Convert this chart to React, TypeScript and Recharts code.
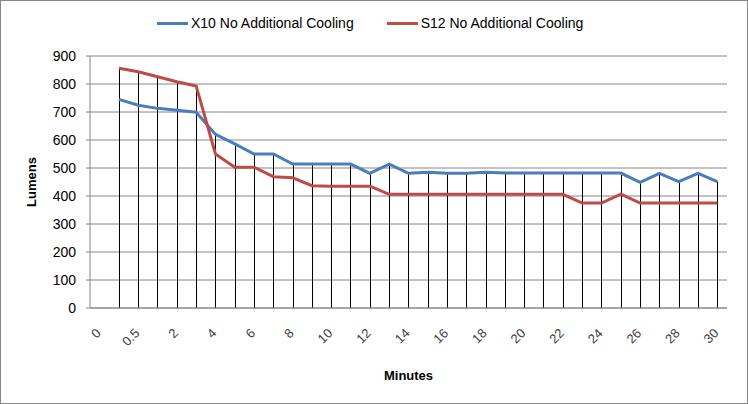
import React from 'react'
import { ComposedChart, Line, Bar, XAxis, YAxis, CartesianGrid } from 'recharts'

// minutes on the category axis (first one carries no reading)
const minutes = [
  '0', '0.25', '0.5', '1', '2', '3', '4', '5', '6', '7', '8', '9', '10', '11', '12', '13', '14',
  '15', '16', '17', '18', '19', '20', '21', '22', '23', '24', '25', '26', '27', '28', '29', '30',
]

const x10Lumens = [
  null, 745, 724, 713, 706, 699, 620, 586, 550, 550, 514, 514, 514, 514, 481, 514, 481,
  485, 481, 481, 485, 482, 482, 482, 482, 482, 482, 482, 449, 481, 451, 481, 451,
]

const s12Lumens = [
  null, 856, 844, 826, 808, 793, 550, 503, 503, 469, 465, 437, 435, 435, 435, 406, 406,
  406, 406, 406, 406, 406, 406, 406, 406, 375, 375, 407, 375, 375, 375, 375, 375,
]

const yTicks = [0, 100, 200, 300, 400, 500, 600, 700, 800, 900]

const BLUE = '#4A7EBB'
const RED = '#BE4B48'
const GRID = '#868686'
const FONT = '"Liberation Sans", Arial, sans-serif'

const data = minutes.map((m, i) => {
  const a = x10Lumens[i]
  const b = s12Lumens[i]
  return {
    minute: m,
    x10: a,
    s12: b,
    drop: a == null && b == null ? null : Math.max(a ?? 0, b ?? 0),
  }
})

// drop line from the higher series down to the axis, snapped to a whole pixel
const DropLine = (props: any) => {
  const { x, y, width, height } = props
  if (height == null || height <= 0) return null
  const cx = Math.round(x + width / 2) + 0.5
  return <line x1={cx} x2={cx} y1={y} y2={y + height} stroke="#000" strokeWidth={1} />
}

const AngledTick = (props: any) => {
  const { x, y, payload } = props
  const tx = x + 2
  const ty = y + 26
  return (
    <text
      x={tx}
      y={ty}
      transform={`rotate(-45 ${tx} ${ty})`}
      textAnchor="end"
      fontSize={13}
      fontFamily={FONT}
      fill="#404040"
    >
      {payload.value}
    </text>
  )
}

const LumensLabel = (props: any) => {
  const { viewBox } = props
  const x = viewBox.x + 31
  const y = viewBox.y + viewBox.height / 2
  return (
    <text
      x={x}
      y={y}
      transform={`rotate(-90 ${x} ${y})`}
      textAnchor="middle"
      dominantBaseline="central"
      fontSize={13}
      fontWeight="bold"
      fontFamily={FONT}
      fill="#000"
    >
      Lumens
    </text>
  )
}

const MinutesLabel = (props: any) => {
  const { viewBox } = props
  const x = viewBox.x + viewBox.width / 2
  const y = viewBox.y + 67
  return (
    <text
      x={x}
      y={y}
      textAnchor="middle"
      dominantBaseline="central"
      fontSize={13}
      fontWeight="bold"
      fontFamily={FONT}
      fill="#000"
    >
      Minutes
    </text>
  )
}

function LegendItem({ color, text }: { color: string; text: string }) {
  return (
    <div style={{ display: 'flex', alignItems: 'center', marginRight: 33 }}>
      <div style={{ width: 31, height: 3, background: color, marginRight: 3 }} />
      <span style={{ fontSize: 14, fontFamily: FONT, color: '#000', whiteSpace: 'nowrap' }}>{text}</span>
    </div>
  )
}

export default function App() {
  return (
    <div
      style={{
        position: 'absolute',
        top: 0,
        left: 0,
        width: 748,
        height: 404,
        background: '#fff',
      }}
    >
      <ComposedChart
        width={748}
        height={404}
        data={data}
        margin={{ top: 56, right: 21, bottom: 0, left: 0 }}
      >
        <CartesianGrid vertical={false} stroke={GRID} strokeWidth={1} />
        <XAxis
          dataKey="minute"
          interval={1}
          height={96}
          tickSize={0}
          tickMargin={0}
          tickLine={false}
          axisLine={{ stroke: GRID }}
          tick={<AngledTick />}
          label={<MinutesLabel />}
        />
        <YAxis
          width={90}
          domain={[0, 900]}
          ticks={yTicks}
          interval={0}
          tickSize={4}
          tickMargin={10}
          tickLine={{ stroke: GRID }}
          axisLine={{ stroke: GRID }}
          tick={{ fontSize: 14, fontFamily: FONT, fill: '#000' }}
          label={<LumensLabel />}
        />
        <Bar dataKey="drop" barSize={1} fill="#000" shape={<DropLine />} isAnimationActive={false} />
        <Line
          type="linear"
          dataKey="x10"
          stroke={BLUE}
          strokeWidth={3}
          dot={false}
          activeDot={false}
          isAnimationActive={false}
        />
        <Line
          type="linear"
          dataKey="s12"
          stroke={RED}
          strokeWidth={3}
          dot={false}
          activeDot={false}
          isAnimationActive={false}
        />
      </ComposedChart>
      <div
        style={{
          position: 'absolute',
          top: 14,
          left: 157,
          display: 'flex',
          alignItems: 'center',
          height: 18,
        }}
      >
        <LegendItem color={BLUE} text="X10 No Additional Cooling" />
        <LegendItem color={RED} text="S12 No Additional Cooling" />
      </div>
      <div
        style={{
          position: 'absolute',
          top: 0,
          left: 0,
          width: 748,
          height: 404,
          boxSizing: 'border-box',
          border: '1px solid #888',
          pointerEvents: 'none',
        }}
      />
    </div>
  )
}
